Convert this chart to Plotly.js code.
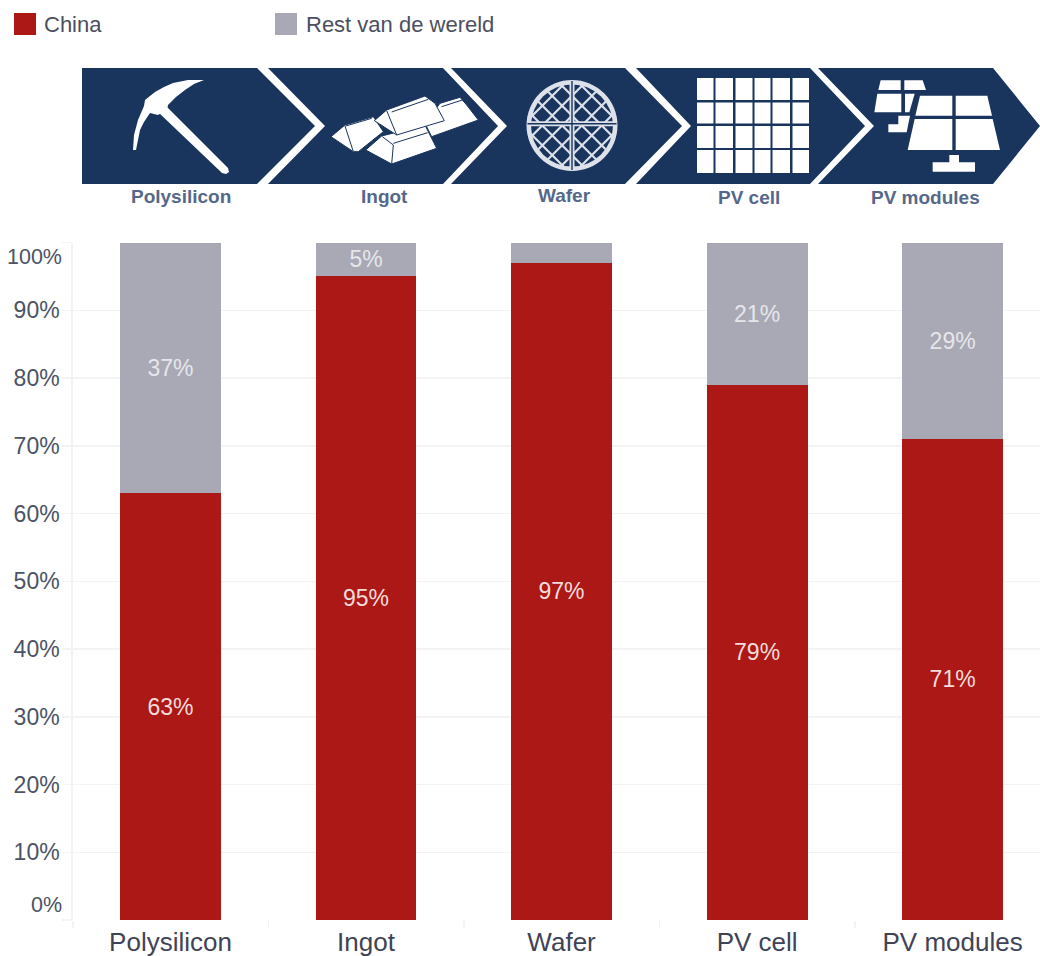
<!DOCTYPE html>
<html><head><meta charset="utf-8">
<script src="https://cdn.plot.ly/plotly-3.0.1.min.js"></script>
<style>html,body{margin:0;padding:0;background:#fff;overflow:hidden}</style>
</head><body><div id="chart" style="width:1040px;height:956px"></div>
<script>
// ---- data ----
const categories = ['Polysilicon', 'Ingot', 'Wafer', 'PV cell', 'PV modules'];
const china = [63, 95, 97, 79, 71];
const rest = [37, 5, 3, 21, 29];
const chinaLabels = ['63%', '95%', '97%', '79%', '71%'];
const restLabels = ['37%', '5%', '', '21%', '29%'];
const yTickVals = [0, 10, 20, 30, 40, 50, 60, 70, 80, 90, 100];
const yTickText = ['', '10%', '20%', '30%', '40%', '50%', '60%', '70%', '80%', '90%', ''];
const seriesNames = ['China', 'Rest van de wereld'];
const stageNames = ['Polysilicon', 'Ingot', 'Wafer', 'PV cell', 'PV modules'];

// ---- palette ----
const RED = '#ab1816', GREY = '#a8a9b5', NAVY = '#19345d', GRID = '#f3f3f4', RIM = '#dde1ea';
const W = 1040, H = 956;
const FONT = '"Liberation Sans", Arial, sans-serif';
const X = p => (p / W).toFixed(5), Y = p => (1 - p / H).toFixed(5);
const poly = pts => 'M' + pts.map(p => X(p[0]) + ',' + Y(p[1])).join('L') + 'Z';
const shapes = [];
const fill = (path, color) => shapes.push({type: 'path', xref: 'paper', yref: 'paper', path, fillcolor: color || '#fff', line: {width: 0}});
const stroke = (pts, color, w) => shapes.push({type: 'path', xref: 'paper', yref: 'paper',
  path: 'M' + pts.map(p => X(p[0]) + ',' + Y(p[1])).join('L'), line: {color, width: w}});
const circle = (cx, cy, r, color) => shapes.push({type: 'circle', xref: 'paper', yref: 'paper',
  x0: X(cx - r), x1: X(cx + r), y0: Y(cy + r), y1: Y(cy - r), fillcolor: color, line: {width: 0}});

// legend swatches
[[14, RED], [275, GREY]].forEach(s => fill(poly([[s[0], 13], [s[0] + 22, 13], [s[0] + 22, 35], [s[0], 35]]), s[1]));

// chevron banner
const T = 68, B = 184, M = 126;
fill(poly([[82, T], [257, T], [315, M], [257, B], [82, B]]), NAVY);
fill(poly([[268, T], [443, T], [498, M], [443, B], [268, B], [325, M]]), NAVY);
fill(poly([[451, T], [625, T], [682, M], [625, B], [451, B], [507, M]]), NAVY);
fill(poly([[636, T], [810, T], [865, M], [810, B], [636, B], [691, M]]), NAVY);
fill(poly([[818, T], [993, T], [1040, M], [993, B], [818, B], [874, M]]), NAVY);

// pickaxe
fill(poly([[158, 112], [165, 105], [228, 168], [229, 172], [226, 174], [222, 173]]));
fill(poly([[133, 150], [134, 135], [138, 120], [144, 106], [145, 100], [155, 92], [164, 87], [173, 83], [188, 80], [204, 80],
  [194, 84], [185, 90], [176, 97], [168, 105], [167, 110], [158, 115], [150, 113], [144, 122], [140, 130], [136, 150]]));

// ingots
const iz = v => [325 + v[0] / 3, 90 + v[1] / 3];
const ingots = [
  [[345, 40], [405, 22], [425, 45], [460, 90], [320, 140], [300, 100]],
  [[18, 140], [60, 105], [145, 80], [175, 125], [100, 185], [85, 185]],
  [[122, 180], [170, 138], [300, 105], [335, 175], [200, 222]],
  [[148, 92], [185, 60], [300, 18], [330, 40], [358, 92], [215, 135]]
];
ingots.forEach(p => shapes.push({type: 'path', xref: 'paper', yref: 'paper', path: poly(p.map(iz)), fillcolor: '#fff', line: {color: NAVY, width: 1}}));
[
  [[60, 108], [85, 185]], [[62, 108], [140, 85]],
  [[185, 62], [215, 135]], [[200, 66], [310, 28]],
  [[172, 140], [205, 165], [200, 222]], [[205, 160], [308, 128]],
  [[350, 50], [412, 30]]
].forEach(l => stroke(l.map(iz), NAVY, 1));

// wafer
const wx = 572, wy = 125.5, wr = 45.5;
circle(wx, wy, wr, RIM);
circle(wx, wy, wr - 4.5, NAVY);
const diagOffsets = [-35, -21, -7, 7, 21, 35];
diagOffsets.forEach(d => {
  [1, -1].forEach(sign => {
    const r = wr - 3, h = Math.sqrt(r * r - d * d);
    const ux = Math.SQRT1_2, uy = sign * Math.SQRT1_2, nx = -uy, ny = ux;
    stroke([[wx + nx * d - ux * h, wy + ny * d - uy * h], [wx + nx * d + ux * h, wy + ny * d + uy * h]], RIM, 2.2);
  });
});
stroke([[wx - wr + 1, 123.8], [wx + wr - 1, 123.8]], RIM, 5);
stroke([[wx, wy - wr + 1], [wx, wy + wr - 1]], RIM, 5);
stroke([[wx - wr + 1, 123.8], [wx + wr - 1, 123.8]], NAVY, 1.4);
stroke([[wx, wy - wr + 1], [wx, wy + wr - 1]], NAVY, 1.4);

// PV cell grid
const colEdges = [[697, 713.5], [715.5, 733], [735.5, 752.5], [754.5, 770.5], [772.5, 790], [792.5, 809]];
const rowEdges = [[78, 100], [102.5, 123.5], [126, 148], [150, 173]];
colEdges.forEach(c => rowEdges.forEach(r => fill(poly([[c[0], r[0]], [c[1], r[0]], [c[1], r[1]], [c[0], r[1]]]))));

// PV modules
const zx = v => 560 + v / 3, zy = v => 55 + v / 3;
const zpoly = pts => poly(pts.map(p => [zx(p[0]), zy(p[1])]));
fill(zpoly([[962, 76], [1022, 76], [1022, 105], [955, 105]]));
fill(zpoly([[1033, 76], [1088, 76], [1098, 105], [1033, 105]]));
fill(zpoly([[952, 116], [1024, 116], [1024, 172], [943, 172]]));
fill(zpoly([[1035, 116], [1064, 116], [1048, 172], [1035, 172]]));
fill(zpoly([[1015, 182], [1050, 182], [1040, 232], [985, 232], [985, 208], [1015, 208]]));
fill(zpoly([[1080, 122], [1177, 122], [1177, 182], [1066, 182]]));
fill(zpoly([[1187, 122], [1282, 122], [1296, 182], [1187, 182]]));
fill(zpoly([[1064, 192], [1177, 192], [1177, 285], [1043, 285]]));
fill(zpoly([[1187, 192], [1298, 192], [1320, 285], [1187, 285]]));
fill(zpoly([[1168, 300], [1197, 300], [1197, 322], [1245, 322], [1245, 350], [1118, 350], [1118, 322], [1168, 322]]));

// ---- annotations (legend, banner captions, offset end tick labels) ----
const note = (text, x, y, size, color, anchor) => ({
  text, xref: 'paper', yref: 'paper', x: x / W, y: 1 - y / H, xanchor: anchor || 'center', yanchor: 'middle',
  showarrow: false, font: {family: FONT, size, color}
});
const stageX = [181, 384, 564, 749, 925], stageY = [196, 196, 195, 197, 197];
const annotations = [
  note(seriesNames[0], 42, 25, 22, '#4b4f60', 'left'),
  note(seriesNames[1], 304, 25, 22, '#4b4f60', 'left'),
  note('100%', 64, 257, 21.5, '#4b5364', 'right'),
  note('0%', 64, 905, 21.5, '#4b5364', 'right')
];
stageNames.forEach((s, i) => annotations.push(note('<b>' + s + '</b>', stageX[i], stageY[i], 19, '#56688a')));

const barCommon = {
  type: 'bar', x: categories, width: 0.516, textposition: 'inside', insidetextanchor: 'middle',
  textangle: 0, hoverinfo: 'skip', cliponaxis: false
};
const traces = [
  Object.assign({}, barCommon, {name: seriesNames[0], y: china, text: chinaLabels, marker: {color: RED, line: {width: 0}},
    textfont: {family: FONT, size: 23, color: '#f3dcdb'}}),
  Object.assign({}, barCommon, {name: seriesNames[1], y: rest, text: restLabels, marker: {color: GREY, line: {width: 0}},
    textfont: {family: FONT, size: 23, color: '#e6e6ea'}})
];

const layout = {
  width: W, height: H, margin: {l: 0, r: 0, t: 0, b: 0, pad: 0},
  paper_bgcolor: '#fff', plot_bgcolor: '#fff', barmode: 'stack', showlegend: false,
  font: {family: FONT},
  xaxis: {
    domain: [72.75 / W, 1], range: [-0.5, 4.447], type: 'category', tickson: 'boundaries', ticks: 'outside', ticklen: 7,
    ticklabelstandoff: 4, tickcolor: GRID, tickwidth: 1.5, showgrid: false, showline: false, zeroline: false,
    tickfont: {family: FONT, size: 26, color: '#3f4356'}, automargin: false, fixedrange: true
  },
  yaxis: {
    domain: [(H - 920) / H, (H - 242.5) / H], range: [0, 100], tickmode: 'array', tickvals: yTickVals, ticktext: yTickText,
    ticks: 'outside', ticklen: 9, ticklabelstandoff: -2, tickcolor: GRID, tickwidth: 1.5, gridcolor: GRID, gridwidth: 1.5,
    showline: true, linecolor: GRID, linewidth: 1.5, zeroline: false,
    tickfont: {family: FONT, size: 23, color: '#4b5364'}, automargin: false, fixedrange: true
  },
  shapes, annotations
};
Plotly.newPlot('chart', traces, layout, {displayModeBar: false, responsive: false, staticPlot: true});
</script></body></html>
